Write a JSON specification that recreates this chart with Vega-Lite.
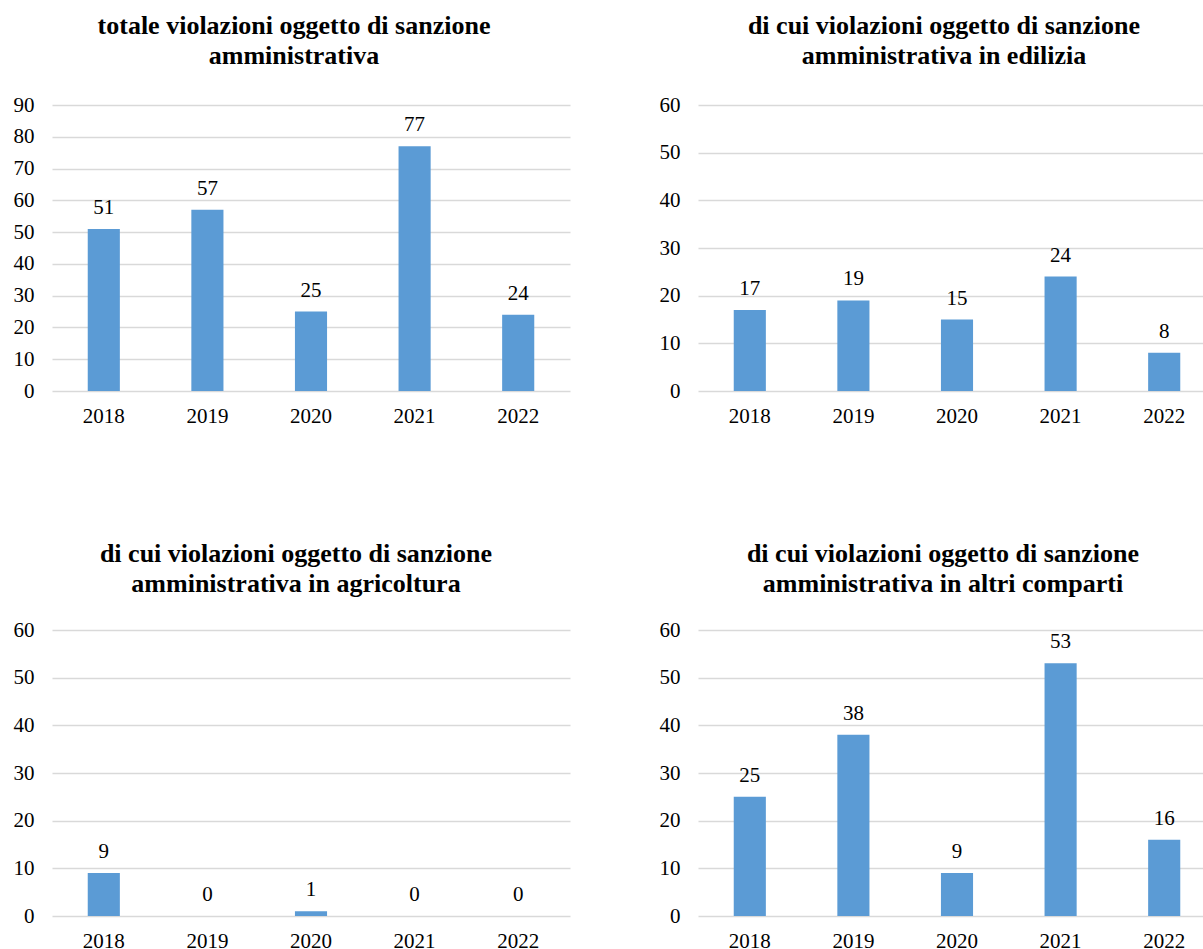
{
  "$schema": "https://vega.github.io/schema/vega-lite/v6.json",
  "padding": {"left": 13, "top": 13, "right": 0, "bottom": 0},
  "background": "white",
  "config": {
    "font": "Liberation Serif",
    "view": {"stroke": null},
    "axis": {"labelFont": "Liberation Serif", "labelFontSize": 21, "labelColor": "#000000", "ticks": false, "domain": false, "title": null},
    "axisX": {"labelAngle": 0, "labelPadding": 14, "grid": false},
    "axisY": {"labelPadding": 18, "grid": true, "gridColor": "#d9d9d9", "gridWidth": 1.3},
    "title": {"font": "Liberation Serif", "fontSize": 26, "fontWeight": "bold", "color": "#000000", "lineHeight": 30, "frame": "group", "anchor": "middle", "offset": 25},
    "bar": {"color": "#5b9bd5"},
    "text": {"font": "Liberation Serif", "fontSize": 21, "color": "#000000", "baseline": "alphabetic", "dy": -15}
  },
  "datasets": {
    "totale": [
      {"anno": "2018", "valore": 51},
      {"anno": "2019", "valore": 57},
      {"anno": "2020", "valore": 25},
      {"anno": "2021", "valore": 77},
      {"anno": "2022", "valore": 24}
    ],
    "edilizia": [
      {"anno": "2018", "valore": 17},
      {"anno": "2019", "valore": 19},
      {"anno": "2020", "valore": 15},
      {"anno": "2021", "valore": 24},
      {"anno": "2022", "valore": 8}
    ],
    "agricoltura": [
      {"anno": "2018", "valore": 9},
      {"anno": "2019", "valore": 0},
      {"anno": "2020", "valore": 1},
      {"anno": "2021", "valore": 0},
      {"anno": "2022", "valore": 0}
    ],
    "altri": [
      {"anno": "2018", "valore": 25},
      {"anno": "2019", "valore": 38},
      {"anno": "2020", "valore": 9},
      {"anno": "2021", "valore": 53},
      {"anno": "2022", "valore": 16}
    ]
  },
  "columns": 2,
  "spacing": {"row": 115, "column": 89},
  "concat": [
    {
      "title": {"text": ["totale violazioni oggetto di sanzione ", "amministrativa"], "dx": -17},
      "width": 518, "height": 286,
      "data": {"name": "totale"},
      "encoding": {
        "x": {"field": "anno", "type": "ordinal", "scale": {"paddingInner": 0.69, "paddingOuter": 0.345}},
        "y": {"field": "valore", "type": "quantitative", "scale": {"domain": [0, 90], "nice": false}, "axis": {"values": [0, 10, 20, 30, 40, 50, 60, 70, 80, 90], "labelOverlap": false}}
      },
      "layer": [
        {"mark": {"type": "bar"}},
        {"mark": {"type": "text"}, "encoding": {"text": {"field": "valore", "type": "quantitative"}}}
      ]
    },
    {
      "title": {"text": ["di cui violazioni oggetto di sanzione ", "amministrativa in edilizia"], "dx": -13},
      "width": 518, "height": 286,
      "data": {"name": "edilizia"},
      "encoding": {
        "x": {"field": "anno", "type": "ordinal", "scale": {"paddingInner": 0.69, "paddingOuter": 0.345}},
        "y": {"field": "valore", "type": "quantitative", "scale": {"domain": [0, 60], "nice": false}, "axis": {"values": [0, 10, 20, 30, 40, 50, 60]}}
      },
      "layer": [
        {"mark": {"type": "bar"}},
        {"mark": {"type": "text"}, "encoding": {"text": {"field": "valore", "type": "quantitative"}}}
      ]
    },
    {
      "title": {"text": ["di cui violazioni oggetto di sanzione ", "amministrativa in agricoltura"], "dx": -15, "offset": 22},
      "width": 518, "height": 286,
      "data": {"name": "agricoltura"},
      "encoding": {
        "x": {"field": "anno", "type": "ordinal", "scale": {"paddingInner": 0.69, "paddingOuter": 0.345}},
        "y": {"field": "valore", "type": "quantitative", "scale": {"domain": [0, 60], "nice": false}, "axis": {"values": [0, 10, 20, 30, 40, 50, 60]}}
      },
      "layer": [
        {"mark": {"type": "bar"}},
        {"mark": {"type": "text"}, "encoding": {"text": {"field": "valore", "type": "quantitative"}}}
      ]
    },
    {
      "title": {"text": ["di cui violazioni oggetto di sanzione ", "amministrativa in altri comparti"], "dx": -14, "offset": 22},
      "width": 518, "height": 286,
      "data": {"name": "altri"},
      "encoding": {
        "x": {"field": "anno", "type": "ordinal", "scale": {"paddingInner": 0.69, "paddingOuter": 0.345}},
        "y": {"field": "valore", "type": "quantitative", "scale": {"domain": [0, 60], "nice": false}, "axis": {"values": [0, 10, 20, 30, 40, 50, 60]}}
      },
      "layer": [
        {"mark": {"type": "bar"}},
        {"mark": {"type": "text"}, "encoding": {"text": {"field": "valore", "type": "quantitative"}}}
      ]
    }
  ]
}
